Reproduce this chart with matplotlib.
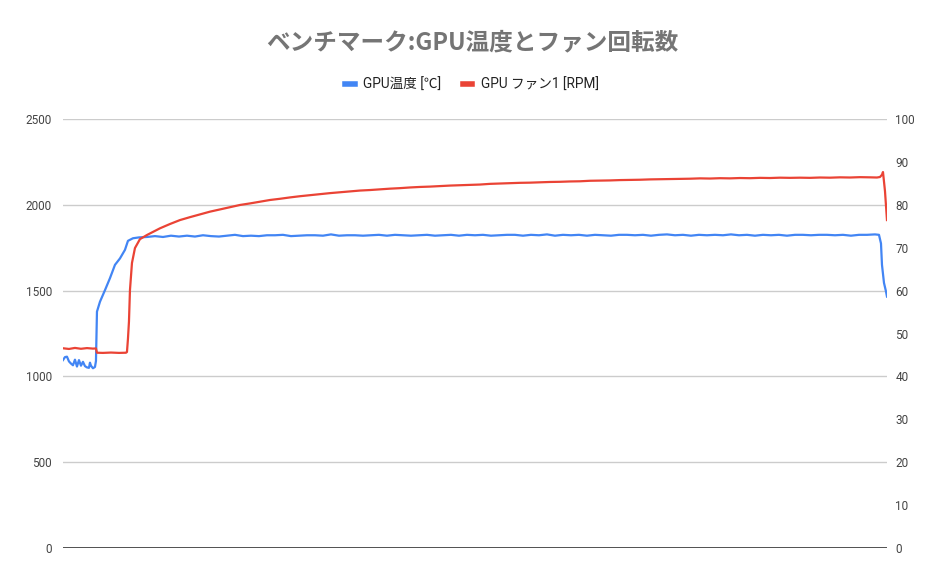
import numpy as np
import matplotlib.pyplot as plt

plt.rcParams['font.family'] = ['Roboto', 'Noto Sans CJK JP', 'DejaVu Sans']

title = 'ベンチマーク:GPU温度とファン回転数'
label_temp = 'GPU温度 [℃]'
label_fan = 'GPU ファン1 [RPM]'

# sample index vs GPU temperature [C]
temp_t = [0, 2, 4, 6, 8, 10, 12, 14, 16, 18, 20, 22, 24, 26, 27, 28, 30, 32, 33,
          34, 37, 42, 47, 52, 57, 62, 65, 70, 76, 84,
          92, 100, 108, 116, 124, 132, 140, 148, 156, 164, 172, 180, 188, 196, 204,
          212, 220, 228, 236, 244, 252, 260, 268, 276, 284, 292, 300, 308, 316, 324,
          332, 340, 348, 356, 364, 372, 380, 388, 396, 404, 412, 420, 428, 436, 444,
          452, 460, 468, 476, 484, 492, 500, 508, 516, 524, 532, 540, 548, 556, 564,
          572, 580, 588, 596, 604, 612, 620, 628, 636, 644, 652, 660, 668, 676, 684,
          692, 700, 708, 716, 724, 732, 740, 748, 756, 764, 772, 780, 788, 796, 804,
          812, 816, 818, 819, 821, 823, 824]
temp_v = [43.8, 44.5, 44.6, 43.5, 43.0, 42.6, 43.9, 42.3, 43.8, 42.5, 43.4, 42.4, 42.1, 42.0, 43.2, 42.5, 41.9, 42.2, 43.6,
          55.1, 57.4, 60.1, 62.9, 66.0, 67.5, 69.5, 71.6, 72.2, 72.4, 72.5,
          72.7, 72.5, 72.8, 72.6, 72.8, 72.6, 72.9, 72.7, 72.6, 72.8, 73.0, 72.7, 72.8, 72.7, 72.9,
          72.9, 73.0, 72.7, 72.8, 72.9, 72.9, 72.8, 73.1, 72.8, 72.9, 72.9, 72.8, 72.9, 73.0, 72.8,
          73.0, 72.9, 72.8, 72.9, 73.0, 72.8, 72.9, 73.0, 72.8, 73.0, 72.9, 73.0, 72.8, 72.9, 73.0,
          73.0, 72.8, 73.0, 72.9, 73.1, 72.8, 73.0, 72.9, 73.0, 72.8, 73.0, 72.9, 72.8, 73.0, 73.0,
          72.9, 73.0, 72.8, 73.0, 73.1, 72.9, 73.0, 72.8, 73.0, 72.9, 73.0, 72.9, 73.1, 72.9, 73.0,
          72.8, 73.0, 72.9, 73.0, 72.8, 73.0, 73.0, 72.9, 73.0, 73.0, 72.9, 73.0, 72.8, 73.0, 73.0,
          73.1, 73.0, 71.0, 66.0, 61.8, 59.8, 58.6]

# sample index vs fan speed [RPM]
fan_t = [0, 6, 12, 18, 24, 30, 33, 34, 40, 48, 56, 63, 64, 65, 66, 67, 69, 72, 77, 84,
         97, 107, 117, 127, 137, 147, 157, 167, 177, 187, 197, 207, 217, 227, 237, 247,
         257, 267, 277, 287, 297, 307, 317, 327, 337, 347, 357, 367, 377, 387, 397, 407,
         417, 427, 437, 447, 457, 467, 477, 487, 497, 507, 517, 527, 537, 547, 557, 567,
         577, 587, 597, 607, 617, 627, 637, 647, 657, 667, 677, 687, 697, 707, 717, 727,
         737, 747, 757, 767, 777, 787, 797, 807, 814, 817, 819, 820, 822, 824]
fan_v = [1164, 1160, 1166, 1161, 1165, 1162, 1163, 1138, 1137, 1139, 1137, 1138, 1142, 1220, 1320, 1503, 1661, 1748, 1800, 1824,
         1863, 1888, 1911, 1928, 1944, 1960, 1973, 1986, 1999, 2008, 2018, 2028, 2035, 2043, 2050, 2056,
         2062, 2068, 2073, 2078, 2083, 2086, 2090, 2094, 2097, 2101, 2104, 2106, 2109, 2112, 2114, 2116,
         2118, 2122, 2124, 2126, 2128, 2129, 2131, 2133, 2134, 2136, 2137, 2140, 2141, 2142, 2144, 2145,
         2146, 2148, 2149, 2150, 2151, 2152, 2154, 2153, 2155, 2154, 2156, 2155, 2157, 2156, 2158, 2157,
         2158, 2157, 2159, 2158, 2160, 2159, 2161, 2160, 2159, 2162, 2175, 2191, 2080, 1911]

left_ticks = [0, 500, 1000, 1500, 2000, 2500]
right_ticks = list(range(0, 101, 10))

fig = plt.figure(figsize=(9.44, 5.85), dpi=100)
ax = fig.add_axes([0.0667, 0.0632, 0.8729, 0.7334])
ax2 = ax.twinx()

# grid and zero line live on the bottom axes, red fan line on top
ax2.set_zorder(1)
ax.set_zorder(2)
ax.patch.set_visible(False)

for g in right_ticks[2::2]:
    ax2.axhline(g, color='#cccccc', lw=1, zorder=0)
ax2.axhline(0, color='#333333', lw=1.2, zorder=1)

l_temp, = ax2.plot(temp_t, temp_v, color='#4285F4', lw=1.6, label=label_temp)
l_fan, = ax.plot(fan_t, fan_v, color='#EA4335', lw=1.6, label=label_fan)

ax.set_xlim(0, 824)
ax.set_ylim(0, 2500)
ax2.set_ylim(0, 100)
ax.set_yticks(left_ticks)
ax2.set_yticks(right_ticks)
ax.set_xticks([])
for a in (ax, ax2):
    for s in a.spines.values():
        s.set_visible(False)
    a.tick_params(length=0, labelsize=8.5, labelcolor='#444444')
ax.tick_params(axis='y', pad=8)
ax2.tick_params(axis='y', pad=6)

fig.text(0.5, 0.928, title, ha='center', va='center', fontsize=17,
         fontweight='bold', color='#757575',
         family=['Noto Sans CJK JP', 'DejaVu Sans'])
fig.legend([l_temp, l_fan], [label_temp, label_fan], loc='center',
           bbox_to_anchor=(0.5, 0.855), ncol=2, frameon=False, fontsize=9.8,
           handlelength=0.7, handletextpad=0.6, columnspacing=1.6,
           labelcolor='#222222')
for h in fig.legends[0].get_lines():
    h.set_linewidth(4)

fig.savefig('out.png', dpi=100)
